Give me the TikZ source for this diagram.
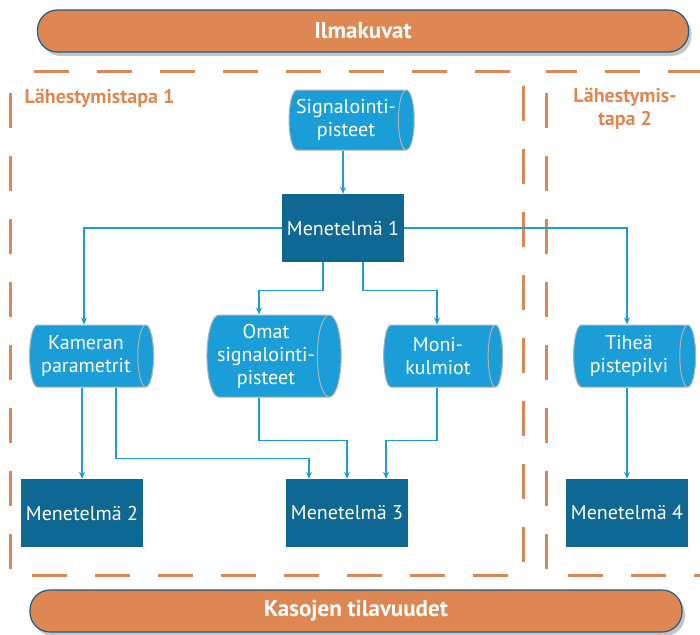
\documentclass[tikz,border=0pt]{standalone}
\usepackage{fontspec}
\setmainfont{PT Sans}
\usetikzlibrary{shapes.geometric,shadows,arrows.meta}
\definecolor{barorange}{HTML}{DE8752}
\definecolor{bardark}{HTML}{1D5C82}
\definecolor{dbblue}{HTML}{1B9ED8}
\definecolor{methblue}{HTML}{0F6894}
\begin{document}
\begin{tikzpicture}[x=1pt,y=-1pt,
  bar/.style={rectangle,rounded corners=20pt,draw=bardark,line width=1.2pt,fill=barorange,
    text=white,font=\fontsize{23}{27}\selectfont\bfseries,minimum height=42pt,
    drop shadow={shadow xshift=3pt,shadow yshift=-4pt,fill=black!45}},
  db/.style={cylinder,shape border rotate=0,aspect=0.35,draw=black!30,line width=1pt,
    fill=dbblue,text=white,align=center,font=\fontsize{20}{23}\selectfont,
    minimum width=62pt,inner sep=2pt},
  meth/.style={rectangle,fill=methblue,text=white,font=\fontsize{20}{23}\selectfont,
    minimum width=122pt,minimum height=68pt},
  zone/.style={draw=barorange,line width=3pt,dash pattern=on 35pt off 28pt,dash phase=41pt},
  zonelabel/.style={text=barorange,font=\fontsize{20}{23}\selectfont\bfseries},
  arr/.style={draw=dbblue,line width=1.2pt,-{Stealth[length=7pt,width=6pt]}}]
\useasboundingbox (0,0) rectangle (700,634);

% approaches
\draw[zone] (10,71) rectangle (523,575);
\draw[zone] (546,71) rectangle (730,575);
\node[zonelabel,anchor=west] (lab1) at (21,98) {Lähestymistapa 1};
\node[zonelabel,align=center] (lab2) at (625,109) {Lähestymis-\\tapa 2};

% input and output
\node[bar,minimum width=651pt] (ilma) at (363,31) {Ilmakuvat};
\node[bar,minimum width=652pt] (kaso) at (356,611) {Kasojen tilavuudet};

% data
\node[db,minimum height=122pt,minimum width=60pt] (sig) at (346,120) {Signalointi-\\pisteet};
\node[db,minimum height=124pt] (kam) at (86,356) {Kameran\\parametrit};
\node[db,minimum height=132pt,minimum width=82pt] (omat) at (266,356) {Omat\\signalointi-\\pisteet};
\node[db,minimum height=119pt] (moni) at (438,356) {Moni-\\kulmiot};
\node[db,minimum height=122pt] (tih) at (629,356) {Tiheä\\pistepilvi};

% methods
\node[meth] (m1) at (343,228) {Menetelmä 1};
\node[meth] (m2) at (82,513) {Menetelmä 2};
\node[meth] (m3) at (347,513) {Menetelmä 3};
\node[meth] (m4) at (627,513) {Menetelmä 4};

\draw[arr] (sig.south -| m1.north) -- (m1.north);
\draw[arr] (m1.west) -| ([xshift=-2pt]kam.north);
\draw[arr] (m1.east) -| ([xshift=-2pt]tih.north);
\draw[arr] ([xshift=-20pt]m1.south) -- ++(0,28) -| ([xshift=-7pt]omat.north);
\draw[arr] ([xshift=20pt]m1.south) -- ++(0,28) -| ([xshift=-1pt]moni.north);
\draw[arr] (m2.north |- kam.south) -- (m2.north);
\draw[arr] ([xshift=34pt]m2.north |- kam.south) -- ++(0,71) -| ([xshift=-38pt]m3.north);
\draw[arr] ([xshift=-7pt]omat.south) -- ++(0,43) -| (m3.north);
\draw[arr] ([xshift=-1pt]moni.south) -- ++(0,53) -| ([xshift=39pt]m3.north);
\draw[arr] ([xshift=-2pt]tih.south) -- ([xshift=-2pt]tih.south |- m4.north);
\end{tikzpicture}
\end{document}
